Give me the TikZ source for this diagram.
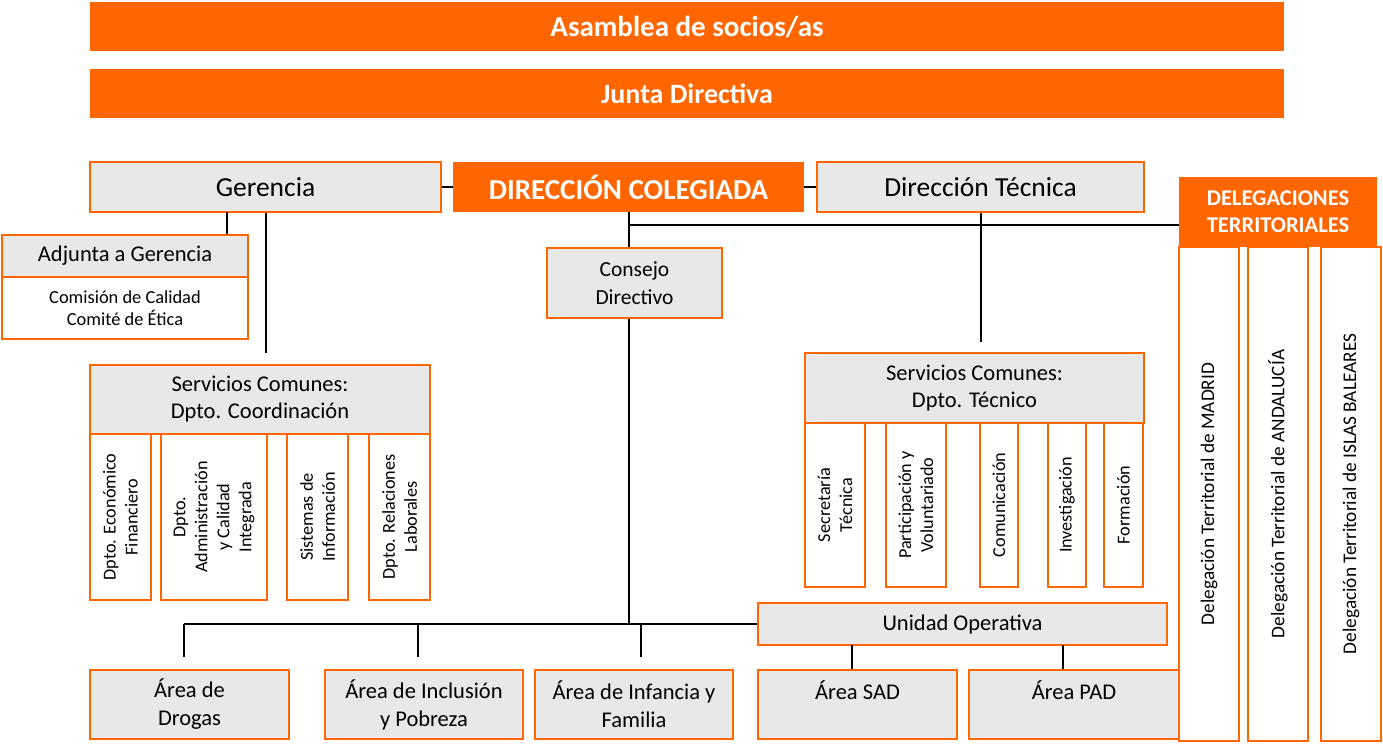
\documentclass[tikz,border=0pt]{standalone}
\usepackage{fontspec}
\setmainfont{Carlito}
\newcommand\fsz[2]{\fontsize{#1}{#2}\selectfont}
\definecolor{org}{RGB}{255,102,0}
\definecolor{lgr}{RGB}{232,232,232}
\tikzset{
  base/.style={draw=org, line width=2.4, inner sep=0, align=center, text=black},
  gbox/.style={base, fill=lgr},
  wbox/.style={base, fill=white},
  obox/.style={fill=org, inner sep=0, align=center, text=white},
  conn/.style={draw=black, line width=2},
}
\begin{document}
\begin{tikzpicture}[x=1pt,y=-1pt]
\useasboundingbox (0,0) rectangle (1383,744);
% top bars
\node[obox, minimum width=1194, minimum height=49, font=\fsz{29}{34}\bfseries] (asam) at (687,26.5) {Asamblea de socios/as};
\node[obox, minimum width=1194, minimum height=49, font=\fsz{28}{33}\bfseries] (junta) at (687,93.5) {Junta Directiva};
% second row
\node[gbox, minimum width=351, minimum height=50, font=\fsz{27.5}{32}] (ger) at (265.5,187) {Gerencia};
\node[obox, minimum width=351, minimum height=50, font=\fsz{29}{34}\bfseries] (dc) at (628.5,187) {DIRECCIÓN COLEGIADA};
\node[gbox, minimum width=327, minimum height=50, font=\fsz{27.5}{32}] (dt) at (980.5,187) {Dirección Técnica};
\node[obox, minimum width=198, minimum height=70, font=\fsz{22.5}{27}\bfseries] (deleg) at (1278,212) {DELEGACIONES\\TERRITORIALES};
% Gerencia branch
\node[gbox, minimum width=246, minimum height=42, font=\fsz{22.5}{26}] (adj) at (125,256) {Adjunta a Gerencia};
\node[wbox, minimum width=246, minimum height=62, font=\fsz{18.4}{22}] (com) at (125,308) {Comisión de Calidad\\Comité de Ética};
\node[gbox, minimum width=340, minimum height=69, font=\fsz{22.5}{27}] (scc) at (260,399.5) {Servicios Comunes:\\Dpto. Coordinación};
\node[wbox, rotate=90, minimum width=166, minimum height=61, font=\fsz{18.2}{22}] (e1) at (120.5,517) {Dpto. Económico\\Financiero};
\node[wbox, rotate=90, minimum width=166, minimum height=106, font=\fsz{18.2}{22}] (e2) at (214,517) {Dpto.\\Administración\\y Calidad\\Integrada};
\node[wbox, rotate=90, minimum width=166, minimum height=61, font=\fsz{18.2}{22}] (e3) at (317.5,517) {Sistemas de\\Información};
\node[wbox, rotate=90, minimum width=166, minimum height=61, font=\fsz{18.2}{22}] (e4) at (399.5,517) {Dpto. Relaciones\\Laborales};
% Consejo
\node[gbox, minimum width=175, minimum height=70, font=\fsz{21.5}{28}] (cons) at (634.5,283) {Consejo\\Directivo};
% Tecnico branch
\node[gbox, minimum width=339, minimum height=70, font=\fsz{22.5}{27}] (sct) at (974.5,388) {Servicios Comunes:\\Dpto. Técnico};
\node[wbox, rotate=90, minimum width=164, minimum height=60, font=\fsz{18.2}{22}] (t1) at (835,505) {Secretaría\\Técnica};
\node[wbox, rotate=90, minimum width=164, minimum height=60, font=\fsz{18.2}{22}] (t2) at (916,505) {Participación y\\Voluntariado};
\node[wbox, rotate=90, minimum width=164, minimum height=38, font=\fsz{18.2}{22}] (t3) at (999,505) {Comunicación};
\node[wbox, rotate=90, minimum width=164, minimum height=38, font=\fsz{18.2}{22}] (t4) at (1067,505) {Investigación};
\node[wbox, rotate=90, minimum width=164, minimum height=39, font=\fsz{18.2}{22}] (t5) at (1123.5,505) {Formación};
% Unidad operativa
\node[gbox, minimum width=409, minimum height=42, font=\fsz{22.5}{26}] (uo) at (962.5,624) {Unidad Operativa};
% Areas
\node[gbox, minimum width=199, minimum height=69, font=\fsz{22.5}{28}] (a1) at (189.5,704.5) {Área de\\Drogas};
\node[gbox, minimum width=198, minimum height=69, font=\fsz{22.5}{28}] (a2) at (424,704.5) {Área de Inclusión\\y Pobreza};
\node[gbox, minimum width=198, minimum height=69, font=\fsz{22.5}{28}] (a3) at (634,704.5) {Área de Infancia y\\Familia};
\node[gbox, minimum width=199, minimum height=69, font=\fsz{22.5}{28}] (a4) at (857.5,704.5) {Área SAD\\\phantom{X}};
\node[gbox, minimum width=210, minimum height=69, font=\fsz{22.5}{28}] (a5) at (1074,704.5) {Área PAD\\\phantom{X}};
% Delegaciones
\node[wbox, rotate=90, minimum width=494, minimum height=60, font=\fsz{19.3}{22}] (d1) at (1209,494) {Delegación Territorial de MADRID};
\node[wbox, rotate=90, minimum width=494, minimum height=60, font=\fsz{19.3}{22}] (d2) at (1278,494) {Delegación Territorial de ANDALUCÍA};
\node[wbox, rotate=90, minimum width=494, minimum height=60, font=\fsz{19.3}{22}] (d3) at (1351,494) {Delegación Territorial de ISLAS BALEARES};
% coordinates
\coordinate (j) at (628.5,225);
\coordinate (g1) at (227,212);
\coordinate (gend) at (265.5,353);
\coordinate (tend) at (980.5,342);
\coordinate (h) at (628.5,624);
\coordinate (h0) at (184,624);
\coordinate (v0) at (184,657);
\coordinate (v1t) at (418,624);
\coordinate (v1) at (418,657);
\coordinate (v2t) at (641,624);
\coordinate (v2) at (641,657);
\coordinate (u1) at (852,645);
\coordinate (u2) at (1063,645);
% connectors
\draw[conn] (ger.east) -- (dc.west);
\draw[conn] (dc.east) -- (dt.west);
\draw[conn] (dc.south) -- (dc.south |- cons.north);
\draw[conn] (j) -- (j -| deleg.west);
\draw[conn] (g1) -- (g1 |- adj.north);
\draw[conn] (ger.south) -- (gend);
\draw[conn] (dt.south) -- (tend);
\draw[conn] (h |- cons.south) -- (h);
\draw[conn] (h0) -- (uo.west);
\draw[conn] (h0) -- (v0);
\draw[conn] (v1t) -- (v1);
\draw[conn] (v2t) -- (v2);
\draw[conn] (u1) -- (u1 |- a4.north);
\draw[conn] (u2) -- (u2 |- a5.north);
\end{tikzpicture}
\end{document}
